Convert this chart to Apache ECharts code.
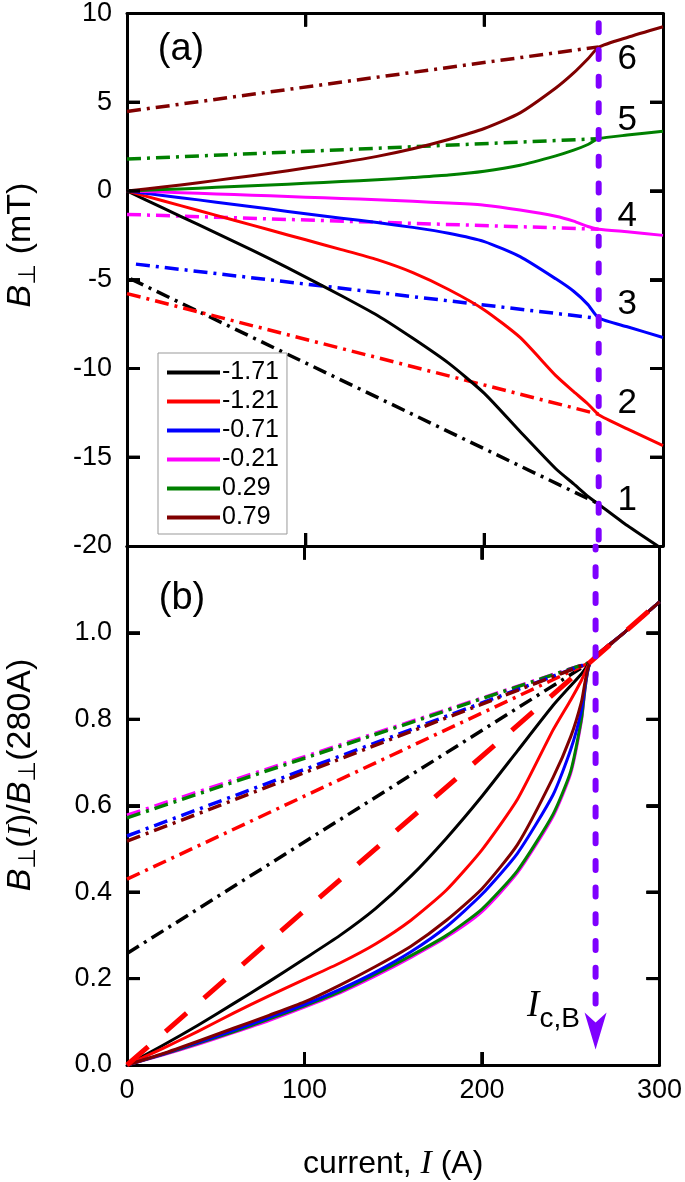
<!DOCTYPE html>
<html><head><meta charset="utf-8">
<script src="https://cdn.jsdelivr.net/npm/echarts/dist/echarts.min.js"></script>
<style>html,body{margin:0;padding:0;background:#fff}#c{width:685px;height:1182px}</style>
</head><body><div id="c"></div><script>
// ---------- data ----------
const currentTop = [0,20,40,60,80,100,120,140,160,180,200,220,240,250,258,264,280,300];
const blackTop   = [0,-0.95,-1.9,-2.85,-3.82,-4.85,-5.9,-7.0,-8.3,-9.7,-11.4,-13.55,-15.65,-16.5,-17.2,-17.65,-18.85,-20.2];
const redTop     = [0,-0.55,-1.1,-1.65,-2.2,-2.75,-3.3,-3.87,-4.6,-5.55,-6.7,-8.25,-10.4,-11.3,-12.0,-12.6,-13.4,-14.35];
const blueTop    = [0,-0.25,-0.5,-0.76,-1.02,-1.28,-1.53,-1.78,-2.05,-2.38,-2.85,-3.7,-4.95,-5.65,-6.4,-7.15,-7.65,-8.25];
const magentaTop = [0,-0.06,-0.13,-0.2,-0.27,-0.35,-0.42,-0.49,-0.58,-0.68,-0.8,-1.07,-1.42,-1.7,-2.0,-2.15,-2.3,-2.5];
const greenTop   = [0,0.08,0.16,0.25,0.34,0.43,0.53,0.63,0.76,0.9,1.11,1.45,1.98,2.3,2.62,2.95,3.15,3.36];
const brownTop   = [0,0.22,0.47,0.73,1.0,1.29,1.6,1.95,2.38,2.9,3.52,4.4,5.8,6.65,7.45,8.1,8.65,9.25];

// linear (dash-dot) fits, top panel: [start current, end current] and values
const blackLinI = [2,264],   blackLinTop   = [-4.95,-17.62];
const redLinI   = [0,264],   redLinTop     = [-5.78,-12.58];
const blueLinI  = [5,264],   blueLinTop    = [-4.12,-7.18];
const magLinI   = [0,264],   magentaLinTop = [-1.32,-2.15];
const greenLinI = [0,264],   greenLinTop   = [1.8,2.95];
const brownLinI = [0,264],   brownLinTop   = [4.48,8.12];

// bottom panel, normalised B(I)/B(280A)
const currentBot = [0,20,40,60,80,100,120,140,160,180,200,220,240,250,256,261,280,300];
const blackBot   = [0,0.045,0.092,0.142,0.193,0.246,0.30,0.362,0.437,0.525,0.622,0.727,0.832,0.878,0.905,0.932,1.0,1.072];
const redBot     = [0,0.038,0.078,0.12,0.16,0.198,0.236,0.28,0.335,0.405,0.498,0.615,0.775,0.845,0.89,0.932,1.0,1.072];
const brownBot   = [0,0.026,0.055,0.085,0.115,0.146,0.185,0.228,0.275,0.335,0.408,0.51,0.665,0.76,0.84,0.932,1.0,1.072];
const blueBot    = [0,0.025,0.052,0.08,0.11,0.14,0.175,0.215,0.262,0.32,0.395,0.49,0.625,0.73,0.82,0.932,1.0,1.072];
const greenBot   = [0,0.024,0.05,0.077,0.106,0.137,0.17,0.21,0.253,0.3,0.361,0.45,0.58,0.68,0.8,0.932,1.0,1.072];
const magentaBot = [0,0.023,0.048,0.075,0.103,0.134,0.167,0.206,0.249,0.296,0.355,0.445,0.575,0.675,0.795,0.932,1.0,1.072];

const linBotI = [0,261];
const blackLinBot   = [0.258,0.932];
const redLinBot     = [0.43,0.932];
const blueLinBot    = [0.53,0.932];
const brownLinBot   = [0.518,0.932];
const greenLinBot   = [0.572,0.932];
const magentaLinBot = [0.578,0.932];

const refLineI = [0,300], refLineBot = [0,1.072];

const icb = 264;                       // I_c,B (A)
const icbTop = [9.45,-20], icbBot = [1.2,0.11], icbTip = 0.036;

const legendNames = ['-1.71','-1.21','-0.71','-0.21','0.29','0.79'];
const curveNumbers = ['1','2','3','4','5','6'];
const curveNumberY = [-17.42,-11.94,-6.38,-1.42,4.0,7.43];
const curveNumberI = 280;

// tick values
const xTickVals   = [100, 200];
const yTickTopVal = [-15, -10, -5, 0, 5];
const yTickBotVal = [0.2, 0.4, 0.6, 0.8, 1.0];

// ---------- helpers ----------
const C = {k:'#000000', r:'#FF0000', b:'#0000FF', m:'#FF00FF', g:'#008000', br:'#800000', v:'#7F00FF'};
const FONT = 'Liberation Sans, Arial, sans-serif';
const zip = (xs, ys) => xs.map((x, i) => [x, ys[i]]);
const TICK = 13;

function solid(name, xs, ys, color, gi, w) {
  return {name, type:'line', xAxisIndex: gi*2, yAxisIndex: gi*2, data: zip(xs, ys),
    symbol:'none', smooth:0.2, clip:true,
    itemStyle:{color}, lineStyle:{color, width: w || 3, join:'round'}, z: 3};
}
function dashdot(name, xs, ys, color, gi) {
  return {name, type:'line', xAxisIndex: gi*2, yAxisIndex: gi*2, data: zip(xs, ys),
    symbol:'none', itemStyle:{color}, lineStyle:{color, width:3.5, type:[14, 6, 3, 6], cap:'butt'}, z: 3};
}
function textPoint(name, gi, pts, labels, labelOpt) {
  return {name, type:'scatter', xAxisIndex: gi*2, yAxisIndex: gi*2,
    data: pts.map((p,i)=>({value:p, label:{formatter:labels[i]}})),
    symbolSize:0, itemStyle:{color:'#000', opacity:1}, silent:true, z:8,
    label:Object.assign({show:true, position:[0,0], align:'center', verticalAlign:'middle', color:'#000', opacity:1}, labelOpt)};
}
function tickData(xmin, xmax, ymin, ymax, xt, yt) {
  const data = [];
  xt.forEach(x => { data.push([x, ymin, 0, -TICK]); data.push([x, ymax, 0, TICK]); });
  yt.forEach(y => { data.push([xmin, y, TICK, 0]); data.push([xmax, y, -TICK, 0]); });
  return data;
}
const tickSpecs = [
  {gi:0, data: tickData(0, 300, -20, 10, xTickVals, yTickTopVal)},
  {gi:1, data: tickData(0, 300, 0, 1.2, xTickVals, yTickBotVal)}
];
function tickSeries(name, spec) {
  return {name, type:'custom', xAxisIndex: spec.gi*2, yAxisIndex: spec.gi*2, data: spec.data, silent:true, z:9,
    encode:{x:0, y:1},
    renderItem: (p, api) => {
      const c = api.coord([api.value(0), api.value(1)]);
      return {type:'line', shape:{x1:c[0], y1:c[1], x2:c[0] + api.value(2), y2:c[1] + api.value(3)},
              style:{stroke:'#000', lineWidth:3}};
    }};
}

const series = [
  tickSeries('ticksTop', tickSpecs[0]),
  tickSeries('ticksBot', tickSpecs[1]),
  dashdot('lt_k', blackLinI, blackLinTop, C.k, 0),
  dashdot('lt_r', redLinI, redLinTop, C.r, 0),
  dashdot('lt_b', blueLinI, blueLinTop, C.b, 0),
  dashdot('lt_m', magLinI, magentaLinTop, C.m, 0),
  dashdot('lt_g', greenLinI, greenLinTop, C.g, 0),
  dashdot('lt_br', brownLinI, brownLinTop, C.br, 0),
  solid('-1.71', currentTop, blackTop, C.k, 0, 3),
  solid('-1.21', currentTop, redTop, C.r, 0),
  solid('-0.71', currentTop, blueTop, C.b, 0),
  solid('-0.21', currentTop, magentaTop, C.m, 0),
  solid('0.29', currentTop, greenTop, C.g, 0),
  solid('0.79', currentTop, brownTop, C.br, 0),
  dashdot('lb_k', linBotI, blackLinBot, C.k, 1),
  dashdot('lb_r', linBotI, redLinBot, C.r, 1),
  dashdot('lb_m', linBotI, magentaLinBot, C.m, 1),
  dashdot('lb_g', linBotI, greenLinBot, C.g, 1),
  dashdot('lb_b', linBotI, blueLinBot, C.b, 1),
  dashdot('lb_br', linBotI, brownLinBot, C.br, 1),
  solid('sb_k', currentBot, blackBot, C.k, 1, 3),
  solid('sb_r', currentBot, redBot, C.r, 1),
  solid('sb_m', currentBot, magentaBot, C.m, 1),
  solid('sb_g', currentBot, greenBot, C.g, 1),
  solid('sb_b', currentBot, blueBot, C.b, 1),
  solid('sb_br', currentBot, brownBot, C.br, 1),
  {name:'ref', type:'line', xAxisIndex:2, yAxisIndex:2, data: zip(refLineI, refLineBot), symbol:'none',
   itemStyle:{color:C.r}, lineStyle:{color:C.r, width:5, type:[28,23]}, z:4},
  {name:'icbTop', type:'line', xAxisIndex:0, yAxisIndex:0, data: [[icb, icbTop[0]],[icb, icbTop[1]]], symbol:'none',
   itemStyle:{color:C.v}, lineStyle:{color:C.v, width:6, type:[9,17.7], cap:'round'}, z:6},
  {name:'icbBot', type:'line', xAxisIndex:2, yAxisIndex:2, data: [[icb, icbBot[0]],[icb, icbBot[1]]], symbol:'none',
   itemStyle:{color:C.v}, lineStyle:{color:C.v, width:6, type:[9,17.7], cap:'round', dashOffset:6}, z:6},
  {name:'icbArrow', type:'scatter', xAxisIndex:2, yAxisIndex:2, data: [[icb, icbTip]],
   symbol:'path://M0,0L11,10L22,0L11,37Z', symbolSize:[22,37], symbolOffset:[0,-18.5],
   itemStyle:{color:C.v, opacity:1}, z:7, silent:true},
  textPoint('nums', 0, curveNumberY.map(v => [curveNumberI, v]), curveNumbers, {fontSize:35, fontFamily:FONT}),
  textPoint('icbLabel', 1, [[240.3, 0.137]], ['{i|I}{s|c,B}'], {
     rich:{ i:{fontFamily:'Liberation Serif, serif', fontStyle:'italic', fontSize:37, color:'#000'},
            s:{fontFamily:FONT, fontSize:28, color:'#000', padding:[26,0,0,0]} }})
];

const mkLine = () => ({show:true, onZero:false, lineStyle:{color:'#000', width:3}});
const mkTick = () => ({show:true, inside:true, length:TICK, lineStyle:{color:'#000', width:3}});
function xAx(gi, pos, labels) {
  const a = {type:'value', gridIndex:gi, position:pos, min:0, max:300, interval:100,
    axisLine:mkLine(), axisTick:mkTick(), splitLine:{show:false},
    axisLabel:{show:labels, fontSize:27, fontFamily:FONT, color:'#000', margin:12}};
  if (labels) {
    a.name = 'current, {i|I} (A)';
    a.nameLocation = 'middle'; a.nameGap = 82;
    a.nameTextStyle = {fontSize:32, fontFamily:FONT, color:'#000',
      rich:{i:{fontFamily:'Liberation Serif, serif', fontStyle:'italic', fontSize:34, color:'#000'}}};
  }
  return a;
}
function yAx(gi, pos, labels, min, max, interval, fmt) {
  return {type:'value', gridIndex:gi, position:pos, min, max, interval,
    axisLine:mkLine(), axisTick:mkTick(), splitLine:{show:false},
    axisLabel:{show:labels, fontSize:27, fontFamily:FONT, color:'#000', margin:15, formatter:fmt}};
}

const baseGraphic = [
  {type:'text', x:181, y:50, style:{text:'(a)', fontSize:38, fontFamily:FONT, fill:'#000', align:'center', verticalAlign:'middle'}},
  {type:'text', x:182, y:599, style:{text:'(b)', fontSize:38, fontFamily:FONT, fill:'#000', align:'center', verticalAlign:'middle'}},
  {type:'text', x:21, y:245, rotation:Math.PI/2,
   style:{text:'{b|B}{s|⊥} (mT)', fontSize:34, fontFamily:FONT, fill:'#000', align:'center', verticalAlign:'middle',
     rich:{b:{fontStyle:'italic', fontSize:34, fontFamily:FONT}, s:{fontSize:24, fontFamily:'DejaVu Sans', padding:[16,0,0,0]}}}},
  {type:'text', x:21, y:775, rotation:Math.PI/2,
   style:{text:'{b|B}{s|⊥}({i|I})/{b|B}{s|⊥}(280A)', fontSize:34, fontFamily:FONT, fill:'#000', align:'center', verticalAlign:'middle',
     rich:{b:{fontStyle:'italic', fontSize:34, fontFamily:FONT}, s:{fontSize:24, fontFamily:'DejaVu Sans', padding:[16,0,0,0]},
           i:{fontStyle:'italic', fontSize:34, fontFamily:'Liberation Serif, serif'}}}}
];

const option = {
  animation:false,
  backgroundColor:'#fff',
  grid:[
    {left:127, right:22, top:12, height:534, show:false},
    {left:127, right:22, top:546.5, height:534.5, show:false}
  ],
  xAxis:[ xAx(0,'bottom',false), xAx(0,'top',false), xAx(1,'bottom',true), xAx(1,'top',false) ],
  yAxis:[
    yAx(0,'left',true,-20,10,5, v => String(v)),
    yAx(0,'right',false,-20,10,5),
    yAx(1,'left',true,0,1.2,0.2, v => v > 1.1 ? '' : v.toFixed(1)),
    yAx(1,'right',false,0,1.2,0.2)
  ],
  legend:{data:legendNames, orient:'vertical', left:158, top:353, itemWidth:53, itemHeight:4, itemGap:4,
    icon:'rect', selectedMode:false, borderColor:'#999', borderWidth:1, backgroundColor:'#fff',
    padding:[7,8,4,9], itemStyle:{borderWidth:0},
    textStyle:{fontSize:25, fontFamily:'Liberation Sans Narrow, Arial Narrow, Liberation Sans, sans-serif', color:'#000', lineHeight:24, padding:[0,0,0,-3]}},
  graphic: baseGraphic,
  series
};
const chart = echarts.init(document.getElementById('c'), null, {renderer:'canvas'});
chart.setOption(option);

// tick marks again as graphic lines, positioned through the axes' own scales
try {
  const tickGfx = [];
  tickSpecs.forEach(spec => {
    spec.data.forEach(d => {
      const p = chart.convertToPixel({gridIndex: spec.gi}, [d[0], d[1]]);
      if (p && isFinite(p[0]) && isFinite(p[1])) {
        tickGfx.push({type:'line', z:100, silent:true,
          shape:{x1:p[0], y1:p[1], x2:p[0] + d[2], y2:p[1] + d[3]},
          style:{stroke:'#000', lineWidth:3}});
      }
    });
  });
  chart.setOption({graphic: baseGraphic.concat(tickGfx)});
} catch (e) { console.error(e); }
</script></body></html>
